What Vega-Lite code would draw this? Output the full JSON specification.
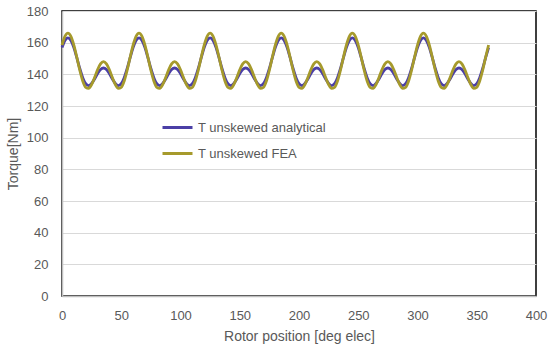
{
  "$schema": "https://vega.github.io/schema/vega-lite/v6.json",
  "width": 474,
  "height": 285,
  "autosize": "none",
  "padding": {"left": 62, "top": 11, "right": 14, "bottom": 56},
  "background": "white",
  "config": {
    "view": {"stroke": "black", "strokeWidth": 1.5},
    "font": "Liberation Sans",
    "axis": {
      "labelColor": "#595959", "titleColor": "#595959", "labelFontSize": 13, "titleFontSize": 14,
      "titleFontWeight": "normal", "labelFont": "Liberation Sans", "titleFont": "Liberation Sans",
      "gridColor": "#d9d9d9", "domainColor": "#bfbfbf", "domainWidth": 1.5, "ticks": false, "labelOverlap": false, "labelFlush": false
    }
  },
  "data": {"values": [
    {"x":0,"analytical":156.9,"FEA":158.5},{"x":2.5,"analytical":161.4,"FEA":164.0},{"x":5,"analytical":163.0,"FEA":166.0},{"x":7.5,"analytical":161.4,"FEA":164.0},{"x":10,"analytical":156.9,"FEA":158.5},{"x":12.5,"analytical":150.5,"FEA":150.8},{"x":15,"analytical":143.7,"FEA":142.6},{"x":17.5,"analytical":137.9,"FEA":135.8},{"x":20,"analytical":134.1,"FEA":131.8},{"x":22.5,"analytical":132.9,"FEA":131.2},{"x":25,"analytical":134.2,"FEA":133.6},{"x":27.5,"analytical":137.1,"FEA":138.0},{"x":30,"analytical":140.4,"FEA":142.9},{"x":32.5,"analytical":143.0,"FEA":146.6},{"x":35,"analytical":144.0,"FEA":148.0},{"x":37.5,"analytical":143.0,"FEA":146.6},{"x":40,"analytical":140.4,"FEA":142.9},{"x":42.5,"analytical":137.1,"FEA":138.0},{"x":45,"analytical":134.2,"FEA":133.6},{"x":47.5,"analytical":132.9,"FEA":131.2},{"x":50,"analytical":134.1,"FEA":131.8},{"x":52.5,"analytical":137.9,"FEA":135.8},{"x":55,"analytical":143.7,"FEA":142.6},{"x":57.5,"analytical":150.5,"FEA":150.8},
    {"x":60,"analytical":156.9,"FEA":158.5},{"x":62.5,"analytical":161.4,"FEA":164.0},{"x":65,"analytical":163.0,"FEA":166.0},{"x":67.5,"analytical":161.4,"FEA":164.0},{"x":70,"analytical":156.9,"FEA":158.5},{"x":72.5,"analytical":150.5,"FEA":150.8},{"x":75,"analytical":143.7,"FEA":142.6},{"x":77.5,"analytical":137.9,"FEA":135.8},{"x":80,"analytical":134.1,"FEA":131.8},{"x":82.5,"analytical":132.9,"FEA":131.2},{"x":85,"analytical":134.2,"FEA":133.6},{"x":87.5,"analytical":137.1,"FEA":138.0},{"x":90,"analytical":140.4,"FEA":142.9},{"x":92.5,"analytical":143.0,"FEA":146.6},{"x":95,"analytical":144.0,"FEA":148.0},{"x":97.5,"analytical":143.0,"FEA":146.6},{"x":100,"analytical":140.4,"FEA":142.9},{"x":102.5,"analytical":137.1,"FEA":138.0},{"x":105,"analytical":134.2,"FEA":133.6},{"x":107.5,"analytical":132.9,"FEA":131.2},{"x":110,"analytical":134.1,"FEA":131.8},{"x":112.5,"analytical":137.9,"FEA":135.8},{"x":115,"analytical":143.7,"FEA":142.6},{"x":117.5,"analytical":150.5,"FEA":150.8},
    {"x":120,"analytical":156.9,"FEA":158.5},{"x":122.5,"analytical":161.4,"FEA":164.0},{"x":125,"analytical":163.0,"FEA":166.0},{"x":127.5,"analytical":161.4,"FEA":164.0},{"x":130,"analytical":156.9,"FEA":158.5},{"x":132.5,"analytical":150.5,"FEA":150.8},{"x":135,"analytical":143.7,"FEA":142.6},{"x":137.5,"analytical":137.9,"FEA":135.8},{"x":140,"analytical":134.1,"FEA":131.8},{"x":142.5,"analytical":132.9,"FEA":131.2},{"x":145,"analytical":134.2,"FEA":133.6},{"x":147.5,"analytical":137.1,"FEA":138.0},{"x":150,"analytical":140.4,"FEA":142.9},{"x":152.5,"analytical":143.0,"FEA":146.6},{"x":155,"analytical":144.0,"FEA":148.0},{"x":157.5,"analytical":143.0,"FEA":146.6},{"x":160,"analytical":140.4,"FEA":142.9},{"x":162.5,"analytical":137.1,"FEA":138.0},{"x":165,"analytical":134.2,"FEA":133.6},{"x":167.5,"analytical":132.9,"FEA":131.2},{"x":170,"analytical":134.1,"FEA":131.8},{"x":172.5,"analytical":137.9,"FEA":135.8},{"x":175,"analytical":143.7,"FEA":142.6},{"x":177.5,"analytical":150.5,"FEA":150.8},
    {"x":180,"analytical":156.9,"FEA":158.5},{"x":182.5,"analytical":161.4,"FEA":164.0},{"x":185,"analytical":163.0,"FEA":166.0},{"x":187.5,"analytical":161.4,"FEA":164.0},{"x":190,"analytical":156.9,"FEA":158.5},{"x":192.5,"analytical":150.5,"FEA":150.8},{"x":195,"analytical":143.7,"FEA":142.6},{"x":197.5,"analytical":137.9,"FEA":135.8},{"x":200,"analytical":134.1,"FEA":131.8},{"x":202.5,"analytical":132.9,"FEA":131.2},{"x":205,"analytical":134.2,"FEA":133.6},{"x":207.5,"analytical":137.1,"FEA":138.0},{"x":210,"analytical":140.4,"FEA":142.9},{"x":212.5,"analytical":143.0,"FEA":146.6},{"x":215,"analytical":144.0,"FEA":148.0},{"x":217.5,"analytical":143.0,"FEA":146.6},{"x":220,"analytical":140.4,"FEA":142.9},{"x":222.5,"analytical":137.1,"FEA":138.0},{"x":225,"analytical":134.2,"FEA":133.6},{"x":227.5,"analytical":132.9,"FEA":131.2},{"x":230,"analytical":134.1,"FEA":131.8},{"x":232.5,"analytical":137.9,"FEA":135.8},{"x":235,"analytical":143.7,"FEA":142.6},{"x":237.5,"analytical":150.5,"FEA":150.8},
    {"x":240,"analytical":156.9,"FEA":158.5},{"x":242.5,"analytical":161.4,"FEA":164.0},{"x":245,"analytical":163.0,"FEA":166.0},{"x":247.5,"analytical":161.4,"FEA":164.0},{"x":250,"analytical":156.9,"FEA":158.5},{"x":252.5,"analytical":150.5,"FEA":150.8},{"x":255,"analytical":143.7,"FEA":142.6},{"x":257.5,"analytical":137.9,"FEA":135.8},{"x":260,"analytical":134.1,"FEA":131.8},{"x":262.5,"analytical":132.9,"FEA":131.2},{"x":265,"analytical":134.2,"FEA":133.6},{"x":267.5,"analytical":137.1,"FEA":138.0},{"x":270,"analytical":140.4,"FEA":142.9},{"x":272.5,"analytical":143.0,"FEA":146.6},{"x":275,"analytical":144.0,"FEA":148.0},{"x":277.5,"analytical":143.0,"FEA":146.6},{"x":280,"analytical":140.4,"FEA":142.9},{"x":282.5,"analytical":137.1,"FEA":138.0},{"x":285,"analytical":134.2,"FEA":133.6},{"x":287.5,"analytical":132.9,"FEA":131.2},{"x":290,"analytical":134.1,"FEA":131.8},{"x":292.5,"analytical":137.9,"FEA":135.8},{"x":295,"analytical":143.7,"FEA":142.6},{"x":297.5,"analytical":150.5,"FEA":150.8},
    {"x":300,"analytical":156.9,"FEA":158.5},{"x":302.5,"analytical":161.4,"FEA":164.0},{"x":305,"analytical":163.0,"FEA":166.0},{"x":307.5,"analytical":161.4,"FEA":164.0},{"x":310,"analytical":156.9,"FEA":158.5},{"x":312.5,"analytical":150.5,"FEA":150.8},{"x":315,"analytical":143.7,"FEA":142.6},{"x":317.5,"analytical":137.9,"FEA":135.8},{"x":320,"analytical":134.1,"FEA":131.8},{"x":322.5,"analytical":132.9,"FEA":131.2},{"x":325,"analytical":134.2,"FEA":133.6},{"x":327.5,"analytical":137.1,"FEA":138.0},{"x":330,"analytical":140.4,"FEA":142.9},{"x":332.5,"analytical":143.0,"FEA":146.6},{"x":335,"analytical":144.0,"FEA":148.0},{"x":337.5,"analytical":143.0,"FEA":146.6},{"x":340,"analytical":140.4,"FEA":142.9},{"x":342.5,"analytical":137.1,"FEA":138.0},{"x":345,"analytical":134.2,"FEA":133.6},{"x":347.5,"analytical":132.9,"FEA":131.2},{"x":350,"analytical":134.1,"FEA":131.8},{"x":352.5,"analytical":137.9,"FEA":135.8},{"x":355,"analytical":143.7,"FEA":142.6},{"x":357.5,"analytical":150.5,"FEA":150.8},
    {"x":360,"analytical":156.9,"FEA":158.5}
  ]},
  "transform": [{"fold": ["analytical", "FEA"], "as": ["series", "T"]}],
  "mark": {"type": "line", "interpolate": "monotone", "strokeWidth": 2.8},
  "encoding": {
    "x": {"field": "x", "type": "quantitative", "scale": {"domain": [0, 400], "nice": false},
          "axis": {"title": "Rotor position [deg elec]", "values": [0,50,100,150,200,250,300,350,400], "grid": false, "labelPadding": 13, "titlePadding": 7}},
    "y": {"field": "T", "type": "quantitative", "scale": {"domain": [0, 180], "nice": false},
          "axis": {"title": "Torque[Nm]", "values": [0,20,40,60,80,100,120,140,160,180], "labelPadding": 14, "titlePadding": 6}},
    "color": {"field": "series", "type": "nominal",
              "scale": {"domain": ["analytical", "FEA"], "range": ["#4B3FA6", "#A69A2C"]},
              "legend": {"title": null, "orient": "none", "legendX": 99, "legendY": 100, "symbolType": "stroke", "symbolSize": 900, "symbolStrokeWidth": 3, "labelFontSize": 13, "labelColor": "#595959", "labelFont": "Liberation Sans", "rowPadding": 2, "labelOffset": 4, "labelExpr": "'T unskewed ' + datum.label"}}
  }
}
